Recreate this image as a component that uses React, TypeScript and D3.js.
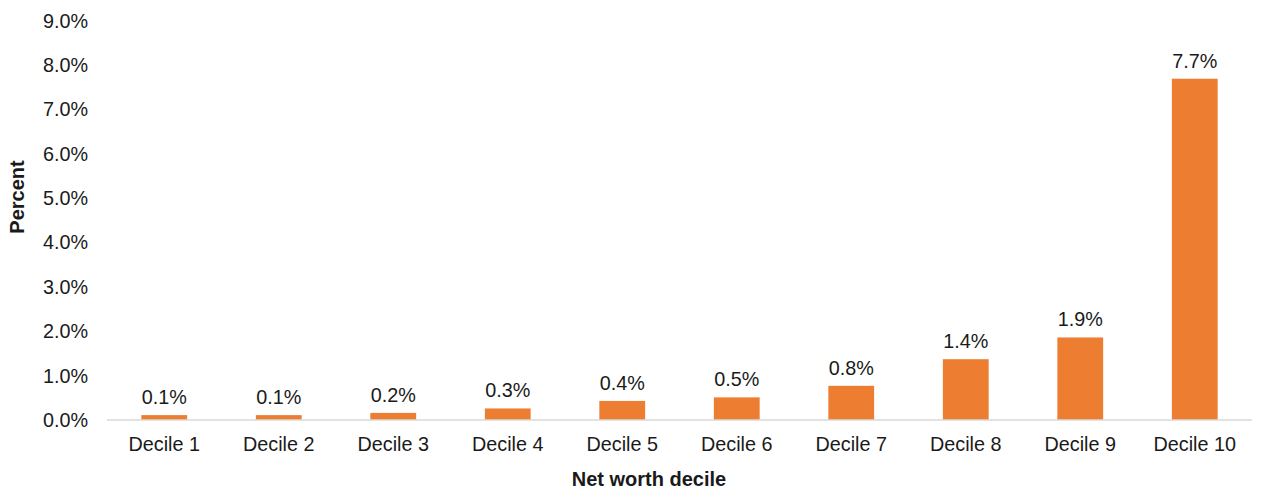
import React from "react";
import * as d3 from "d3";

// Share of households by net worth decile (percent)
const deciles = [
  "Decile 1", "Decile 2", "Decile 3", "Decile 4", "Decile 5",
  "Decile 6", "Decile 7", "Decile 8", "Decile 9", "Decile 10",
];
const percents = [0.11, 0.11, 0.16, 0.26, 0.43, 0.51, 0.77, 1.37, 1.86, 7.69];
const yTicks = [0, 1, 2, 3, 4, 5, 6, 7, 8, 9];

const WIDTH = 1261;
const HEIGHT = 490;
const plot = { left: 107, right: 1252, top: 20.6, bottom: 420 };
const FONT = "'Liberation Sans', Arial, sans-serif";
const TEXT = "#1a1a1a";
const BAR = "#ED7D31";
const FS = 19.8;

export default function App() {
  const x = d3
    .scaleBand<string>()
    .domain(deciles)
    .range([plot.left, plot.right])
    .paddingInner(0.6)
    .paddingOuter(0.3);
  const y = d3.scaleLinear().domain([0, 9]).range([plot.bottom, plot.top]);
  const fmt = (v: number) => `${v.toFixed(1)}%`;

  return (
    <svg
      width={WIDTH}
      height={HEIGHT}
      style={{ position: "absolute", left: 0, top: 0, background: "#fff" }}
      fontFamily={FONT}
    >
      {/* y-axis tick labels */}
      {yTicks.map((t) => (
        <text
          key={t}
          x={88}
          y={y(t)}
          textAnchor="end"
          dominantBaseline="central"
          fontSize={FS}
          fill={TEXT}
        >
          {fmt(t)}
        </text>
      ))}

      {/* bars and value labels */}
      {deciles.map((d, i) => {
        const v = percents[i];
        const bx = x(d) as number;
        return (
          <g key={d}>
            <rect
              x={bx}
              y={y(v)}
              width={x.bandwidth()}
              height={y(0) - y(v)}
              fill={BAR}
            />
            <text
              x={bx + x.bandwidth() / 2}
              y={y(v) - 11}
              textAnchor="middle"
              fontSize={FS}
              fill={TEXT}
            >
              {fmt(v)}
            </text>
          </g>
        );
      })}

      {/* baseline */}
      <line
        x1={plot.left}
        x2={plot.right}
        y1={plot.bottom}
        y2={plot.bottom}
        stroke="#d9d9d9"
        strokeWidth={1.5}
      />

      {/* category labels */}
      {deciles.map((d) => (
        <text
          key={d}
          x={(x(d) as number) + x.bandwidth() / 2}
          y={444}
          textAnchor="middle"
          dominantBaseline="central"
          fontSize={FS}
          fill={TEXT}
        >
          {d}
        </text>
      ))}

      {/* axis titles */}
      <text
        x={649}
        y={479}
        textAnchor="middle"
        dominantBaseline="central"
        fontSize={20}
        fontWeight="bold"
        fill={TEXT}
      >
        Net worth decile
      </text>
      <text
        transform={`translate(17, 197) rotate(-90)`}
        textAnchor="middle"
        dominantBaseline="central"
        fontSize={20}
        fontWeight="bold"
        fill={TEXT}
      >
        Percent
      </text>
    </svg>
  );
}
